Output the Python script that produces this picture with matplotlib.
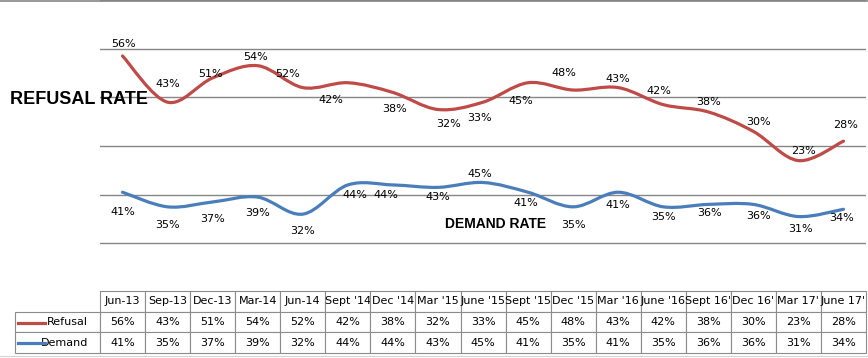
"""
Refusal rate vs demand rate, stacked smooth lines with a data table underneath.
"""

import numpy as np
import matplotlib
matplotlib.use("Agg")
import matplotlib.pyplot as plt
from matplotlib.path import Path
from matplotlib.patches import PathPatch
from matplotlib.lines import Line2D
from matplotlib.table import Table

# data
categories = ["Jun-13", "Sep-13", "Dec-13", "Mar-14", "Jun-14", "Sept '14", "Dec '14",
              "Mar '15", "June '15", "Sept '15", "Dec '15", "Mar '16", "June '16",
              "Sept 16'", "Dec 16'", "Mar 17'", "June 17'"]
refusal = [56, 43, 51, 54, 52, 42, 38, 32, 33, 45, 48, 43, 42, 38, 30, 23, 28]
demand = [41, 35, 37, 39, 32, 44, 44, 43, 45, 41, 35, 41, 35, 36, 36, 31, 34]

# label nudges in pixels (dx right, dy down)
ref_dx = [1, 0, -2, -2, -15, -17, 2, 11, -4, -7, -9, 0, -4, 0, 5, 5, 2]
ref_dy = [-12, -18, -4, -9, -14, 17, 17, 14, 16, 18, -17, -9, -14, -10, -9, -10, -16]
dem_dx = [0, 0, 0, 0, 0, 7, -7, 0, -3, -2, 0, 0, 0, 1, 5, 2, -2]
dem_dy = [20, 18, 17, 16, 17, 10, 10, 10, -9, 11, 18, 13, 10, 9, 12, 12, 9]

RED = "#BE4B48"
BLUE = "#4A7EBB"
GRID = "#868686"

W, H = 868, 358


def smooth_path(xs, ys):
    # excel-ish bezier smoothing
    pts = np.column_stack([xs, ys]).astype(float)
    n = len(pts)
    verts = [pts[0]]
    codes = [Path.MOVETO]
    for i in range(n - 1):
        p0 = pts[max(i - 1, 0)]
        p1 = pts[i]
        p2 = pts[i + 1]
        p3 = pts[min(i + 2, n - 1)]
        verts += [p1 + (p2 - p0) / 6, p2 - (p3 - p1) / 6, p2]
        codes += [Path.CURVE4] * 3
    return Path(verts, codes)


def _main():
    fig = plt.figure(figsize=(W / 100, H / 100), dpi=100)
    ax = fig.add_axes([100 / W, 1 - 292 / H, 766 / W, 292 / H])

    x = np.arange(len(categories))
    dem = np.array(demand)
    ref_stack = dem + np.array(refusal)

    ax.set_xlim(-0.5, len(categories) - 0.5)
    ax.set_ylim(0, 120)
    ax.set_yticks(range(0, 121, 20))
    ax.set_xticks([])
    ax.yaxis.grid(True, color=GRID, lw=1.0)
    ax.tick_params(left=False, labelleft=False)
    for s in ax.spines.values():
        s.set_visible(False)

    ax.add_patch(PathPatch(smooth_path(x, ref_stack), fill=False, ec=RED, lw=2.3,
                           capstyle="round", zorder=3))
    ax.add_patch(PathPatch(smooth_path(x, dem), fill=False, ec=BLUE, lw=2.3,
                           capstyle="round", zorder=3))

    for i in x:
        ax.annotate(f"{refusal[i]}%", (i, ref_stack[i]), xytext=(ref_dx[i], -ref_dy[i]),
                    textcoords="offset pixels", ha="center", va="center", fontsize=8)
        ax.annotate(f"{demand[i]}%", (i, dem[i]), xytext=(dem_dx[i], -dem_dy[i]),
                    textcoords="offset pixels", ha="center", va="center", fontsize=8)

    fig.text(10 / W, 1 - 100 / H, "REFUSAL RATE", family="Liberation Sans",
             weight="bold", fontsize=13, ha="left", va="center")
    fig.text(496 / W, 1 - 224 / H, "DEMAND RATE", family="Liberation Sans",
             weight="bold", fontsize=10, ha="center", va="center")

    # data table
    tbl = Table(ax, bbox=[-85 / 766, -61 / 292, 851 / 766, 62 / 292])
    rh = 1 / 3
    lab_w, col_w = 85, 45
    c0 = tbl.add_cell(0, 0, lab_w, rh, text="")
    c0.visible_edges = ""
    for j, cat in enumerate(categories):
        tbl.add_cell(0, j + 1, col_w, rh, text=cat, loc="center")
    for r, (name, vals) in enumerate([("Refusal", refusal), ("Demand", demand)]):
        c = tbl.add_cell(r + 1, 0, lab_w, rh, text=name, loc="right")
        c.PAD = 0.14
        for j, v in enumerate(vals):
            tbl.add_cell(r + 1, j + 1, col_w, rh, text=f"{v}%", loc="center")
    tbl.auto_set_font_size(False)
    tbl.set_fontsize(8)
    for cell in tbl.get_celld().values():
        cell.set_edgecolor("#8c8c8c")
        cell.set_linewidth(0.8)
    ax.add_table(tbl)

    # legend keys in the table
    for yy, col in [(323, RED), (343, BLUE)]:
        fig.add_artist(Line2D([18 / W, 45 / W], [1 - yy / H, 1 - yy / H], color=col,
                              lw=2.3, transform=fig.transFigure))

    # sheet lines
    fig.add_artist(Line2D([0, 1], [1 - 0.5 / H, 1 - 0.5 / H], color=GRID, lw=1.2,
                          transform=fig.transFigure))
    fig.add_artist(Line2D([0, 1], [1 - 356 / H, 1 - 356 / H], color="#d4d4d4", lw=0.8,
                          transform=fig.transFigure))

    fig.savefig("out.png", dpi=100)


if __name__ == "__main__":
    _main()
